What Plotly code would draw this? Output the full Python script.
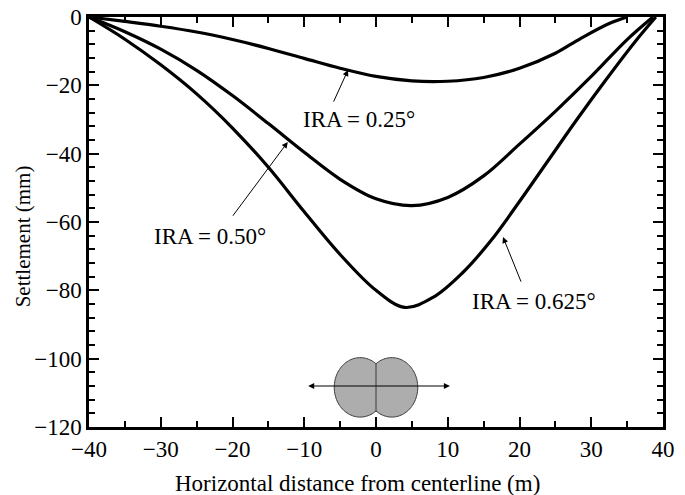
import numpy as np
import plotly.graph_objects as go

# Settlement troughs for three imposed rotation angles (IRA)
x_025 = [-40, -35, -30, -25, -20, -15, -10, -5, 0, 5, 10, 15, 20, 25, 28.5, 32.5, 35]
y_025 = [0, -1.3, -2.7, -4.4, -6.6, -9.2, -12.1, -15.0, -17.4, -18.7, -18.8, -17.7, -15.0, -10.6, -6.3, -1.9, 0]

x_050 = [-40, -35, -30, -25, -20, -15, -10, -5, 0, 5, 10, 15, 20, 25, 30, 35, 38.6]
y_050 = [0, -4.3, -9.4, -15.6, -23, -31.2, -39.6, -47.5, -53.2, -55.2, -52.8, -46.5, -37.2, -27.6, -17.4, -6.6, 0]

x_0625 = [-40, -35, -30, -25, -20, -15, -10, -5, 0, 4, 8, 12, 16, 20, 24, 28, 32, 36, 39]
y_0625 = [0, -6.5, -14, -22.5, -32.5, -44, -57, -69.5, -80, -85, -82, -75, -65.5, -54, -42, -30, -18.5, -7.5, 0]

labels = ["IRA = 0.25°", "IRA = 0.50°", "IRA = 0.625°"]

FONT = "Liberation Serif"

fig = go.Figure()
for xs, ys, name in [(x_025, y_025, labels[0]), (x_050, y_050, labels[1]), (x_0625, y_0625, labels[2])]:
    fig.add_trace(go.Scatter(x=xs, y=ys, mode="lines", name=name,
                             line=dict(color="black", width=3.2, shape="spline", smoothing=1.0),
                             showlegend=False, hoverinfo="skip"))

# Curve labels with leader arrows (tail -> tip on curve)
label_pos = [(-2.4, -29.9), (-23.1, -64.1), (22.0, -83.2)]
arrows = [((-6.0, -25.2), (-3.9, -15.5)),
          ((-20.1, -58.6), (-12.3, -36.6)),
          ((20.3, -77.9), (17.7, -64.4))]
for text, (tx, ty), ((ax, ay), (hx, hy)) in zip(labels, label_pos, arrows):
    fig.add_annotation(x=tx, y=ty, text=text, showarrow=False,
                       font=dict(family=FONT, size=23, color="black"))
    fig.add_annotation(x=hx, y=hy, ax=ax, ay=ay, axref="x", ayref="y", text="",
                       showarrow=True, arrowhead=2, arrowsize=1.2, arrowwidth=1,
                       arrowcolor="black")

# Twin-tunnel cross-section sketch: two overlapping ellipses
cx, a, b, cy = 2.2, 3.62, 8.7, -108.4
t_int = np.arccos(cx / a)  # where the left ellipse crosses x = 0
t_left = np.linspace(t_int, 2 * np.pi - t_int, 80)
left_x = -cx + a * np.cos(t_left)
left_y = cy + b * np.sin(t_left)
s_right = np.linspace(-(np.pi - t_int), np.pi - t_int, 80)
right_x = cx + a * np.cos(s_right)
right_y = cy + b * np.sin(s_right)
xs_all = np.concatenate([left_x, right_x])
ys_all = np.concatenate([left_y, right_y])
path = "M " + " L ".join(f"{x:.3f},{y:.3f}" for x, y in zip(xs_all, ys_all)) + " Z"
fig.add_shape(type="path", path=path, fillcolor="#adadad",
              line=dict(color="#3a3a3a", width=1), layer="above")
notch = b * np.sin(t_int)
fig.add_shape(type="line", x0=0, x1=0, y0=cy - notch, y1=cy + notch,
              line=dict(color="#3a3a3a", width=1), layer="above")
fig.add_annotation(x=10.3, y=-108.0, ax=-9.66, ay=-108.0, axref="x", ayref="y", text="",
                   showarrow=True, arrowhead=2, arrowside="end+start", arrowsize=1.2,
                   arrowwidth=1, arrowcolor="black")

# Axis titles placed as paper-anchored text
fig.add_annotation(x=0.468, y=-0.137, xref="paper", yref="paper", showarrow=False,
                   xanchor="center", yanchor="middle",
                   text="Horizontal distance from centerline (m)",
                   font=dict(family=FONT, size=23, color="black"))
fig.add_annotation(x=-0.115, y=0.465, xref="paper", yref="paper", showarrow=False,
                   xanchor="center", yanchor="middle",
                   text="Settlement (mm)", textangle=-90,
                   font=dict(family=FONT, size=21, color="black"))

axis_common = dict(showline=True, mirror="ticks", linecolor="black", linewidth=2.5,
                   ticks="inside", tickcolor="black", tickwidth=2, ticklen=10,
                   showgrid=False, zeroline=False, automargin=False,
                   tickfont=dict(family=FONT, size=23, color="black"))

fig.update_xaxes(range=[-40, 40], dtick=10, tick0=-40,
                 minor=dict(dtick=5, ticks="inside", ticklen=6, tickwidth=2, tickcolor="black"),
                 **axis_common)
fig.update_yaxes(range=[-120, 0], dtick=20, tick0=0,
                 minor=dict(dtick=4, ticks="inside", ticklen=6, tickwidth=2, tickcolor="black"),
                 **axis_common)

fig.update_layout(width=685, height=495, margin=dict(l=89, r=22, t=17, b=68),
                  plot_bgcolor="white", paper_bgcolor="white",
                  font=dict(family=FONT, color="black"))

fig.write_html("out.html")
